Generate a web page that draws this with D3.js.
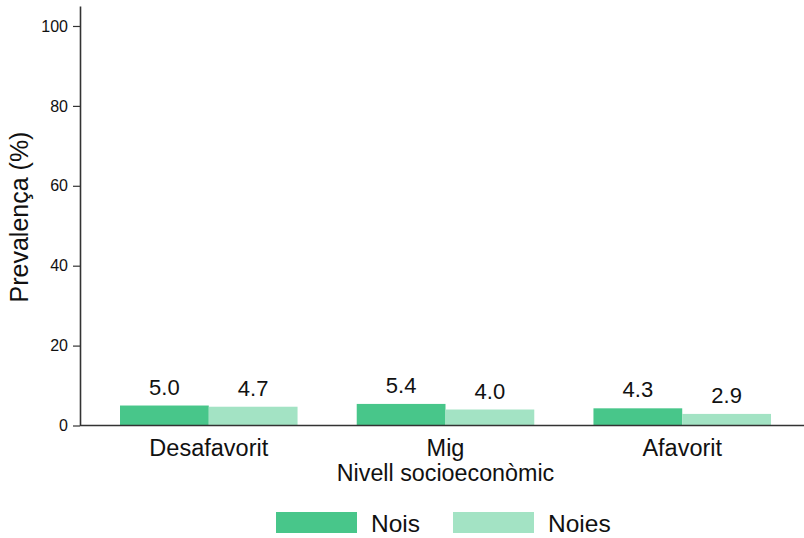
<!DOCTYPE html>
<html>
<head>
<meta charset="utf-8">
<script src="https://cdn.jsdelivr.net/npm/d3@7"></script>
<style>
  html, body { margin: 0; padding: 0; background: #fff; }
  svg { display: block; font-family: Arial, "Liberation Sans", Helvetica, sans-serif; }
</style>
</head>
<body>
<svg id="chart" width="804" height="538"></svg>
<script>
// Prevalence by socioeconomic level and sex
const categories = ["Desafavorit", "Mig", "Afavorit"];
const seriesNames = ["Nois", "Noies"];
const nois = [5.0, 5.4, 4.3];
const noies = [4.7, 4.0, 2.9];
const yTicks = [0, 20, 40, 60, 80, 100];
const colors = ["#48c68a", "#a3e3c4"];

const values = [nois, noies];
const svg = d3.select("#chart");

const x0 = 80, yBase = 425.5, yTop = 6;

const x = d3.scaleBand().domain(categories).range([x0, 811])
  .paddingInner(0.25).paddingOuter(0.169);
const xs = d3.scaleBand().domain(seriesNames).range([0, x.bandwidth()]);
const y = d3.scaleLinear().domain([0, 105]).range([yBase, yTop]);

// bars
const groups = svg.append("g").selectAll("g")
  .data(categories)
  .join("g")
  .attr("transform", d => `translate(${x(d)},0)`);

const cells = (c, i) => seriesNames.map((s, k) => ({ s, k, v: values[k][i] }));

groups.selectAll("rect")
  .data(cells)
  .join("rect")
  .attr("x", d => xs(d.s))
  .attr("width", xs.bandwidth())
  .attr("y", d => y(d.v))
  .attr("height", d => y(0) - y(d.v))
  .attr("fill", d => colors[d.k]);

// value labels
groups.selectAll("text")
  .data(cells)
  .join("text")
  .attr("x", d => xs(d.s) + xs.bandwidth() / 2)
  .attr("y", d => y(d.v) - 11)
  .attr("text-anchor", "middle")
  .attr("font-size", 22)
  .attr("fill", "#111")
  .text(d => d.v.toFixed(1));

// y axis
const yAxis = svg.append("g")
  .attr("transform", `translate(${x0},0)`)
  .call(d3.axisLeft(y).tickValues(yTicks).tickSize(7).tickPadding(5).tickSizeOuter(0));
yAxis.select(".domain").attr("stroke", "#333").attr("stroke-width", 1.6);
yAxis.selectAll(".tick line").attr("stroke", "#333").attr("stroke-width", 1.2);
yAxis.selectAll(".tick text").attr("font-size", 16).attr("fill", "#111")
  .attr("font-family", "Arial, 'Liberation Sans', sans-serif");

// x axis
const xAxis = svg.append("g")
  .attr("transform", `translate(0,${yBase})`)
  .call(d3.axisBottom(x).tickSize(0).tickPadding(14).tickSizeOuter(0));
xAxis.select(".domain").attr("stroke", "#333").attr("stroke-width", 1.6)
  .attr("d", `M${x0},0H804`);
xAxis.selectAll(".tick text").attr("font-size", 23.5).attr("fill", "#111")
  .attr("font-family", "Arial, 'Liberation Sans', sans-serif");

// axis titles
svg.append("text")
  .attr("x", x("Mig") + x.bandwidth() / 2)
  .attr("y", 481)
  .attr("text-anchor", "middle")
  .attr("font-size", 23.3)
  .attr("fill", "#111")
  .text("Nivell socioeconòmic");

svg.append("text")
  .attr("transform", "translate(28,217) rotate(-90)")
  .attr("text-anchor", "middle")
  .attr("font-size", 25)
  .attr("fill", "#111")
  .text("Prevalença (%)");

// legend
const legend = svg.append("g").selectAll("g")
  .data(seriesNames)
  .join("g")
  .attr("transform", (d, i) => `translate(${276 + i * 177},512)`);
legend.append("rect")
  .attr("width", 81).attr("height", 21)
  .attr("fill", (d, i) => colors[i]);
legend.append("text")
  .attr("x", 95).attr("y", 20)
  .attr("font-size", 24.5)
  .attr("fill", "#111")
  .text(d => d);
</script>
</body>
</html>
